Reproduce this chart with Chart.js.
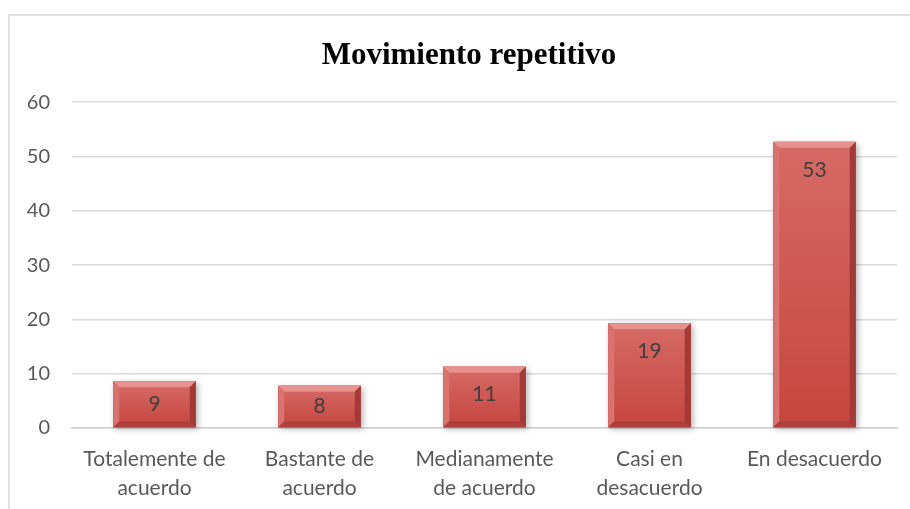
<!DOCTYPE html>
<html>
<head>
<meta charset="utf-8">
<script src="https://cdn.jsdelivr.net/npm/chart.js@4.4.0/dist/chart.umd.min.js"></script>
<style>
  html, body { margin: 0; background: #fff; }
  #wrap { width: 910px; height: 509px; position: relative; }
</style>
</head>
<body>
<div id="wrap"><canvas id="chart"></canvas></div>
<script>
// data
const categories = [
    ['Totalemente de', 'acuerdo'],
    ['Bastante de', 'acuerdo'],
    ['Medianamente', 'de acuerdo'],
    ['Casi en', 'desacuerdo'],
    'En desacuerdo'
];
const values = [8.6, 7.8, 11.3, 19.3, 52.7];
const yTicks = [0, 10, 20, 30, 40, 50, 60];
const chartTitle = 'Movimiento repetitivo';

const labelFont = 'Lato, "Open Sans", sans-serif';

// frame around the chart (top and left edges only visible)
const framePlugin = {
    id: 'frame',
    beforeDraw(chart) {
        const ctx = chart.ctx;
        ctx.save();
        ctx.strokeStyle = '#d9d9d9';
        ctx.lineWidth = 1.5;
        ctx.beginPath();
        ctx.moveTo(9, 520);
        ctx.lineTo(9, 15);
        ctx.lineTo(910, 15);
        ctx.stroke();
        ctx.restore();
    },
    // let the y tick labels overflow into the left padding
    afterLayout(chart) {
        chart.scales.y.left = 0;
    }
};

// bevelled red bars + value labels
const bevelPlugin = {
    id: 'bevel',
    beforeDatasetsDraw(chart) {
        const ctx = chart.ctx;
        const meta = chart.getDatasetMeta(0);
        ctx.save();
        meta.data.forEach(bar => {
            const l = bar.x - bar.width / 2, t = bar.y;
            ctx.shadowColor = 'rgba(0,0,0,0.3)';
            ctx.shadowBlur = 6;
            ctx.shadowOffsetX = 2;
            ctx.shadowOffsetY = 2;
            ctx.fillStyle = '#b8403d';
            ctx.fillRect(l, t, bar.width, bar.base - t);
        });
        ctx.restore();
    },
    afterDatasetsDraw(chart) {
        const ctx = chart.ctx;
        const meta = chart.getDatasetMeta(0);
        const b = 6;
        ctx.save();
        meta.data.forEach((bar, i) => {
            const l = bar.x - bar.width / 2, r = bar.x + bar.width / 2;
            const t = bar.y, bot = bar.base;

            const g = ctx.createLinearGradient(0, t, 0, bot);
            g.addColorStop(0, '#d66a66');
            g.addColorStop(1, '#c6463f');
            ctx.fillStyle = g;
            ctx.fillRect(l, t, r - l, bot - t);

            // top bevel
            ctx.fillStyle = '#e8928f';
            ctx.beginPath();
            ctx.moveTo(l, t); ctx.lineTo(r, t); ctx.lineTo(r - b, t + b); ctx.lineTo(l + b, t + b);
            ctx.closePath(); ctx.fill();
            // left bevel
            ctx.fillStyle = '#d9736f';
            ctx.beginPath();
            ctx.moveTo(l, t); ctx.lineTo(l + b, t + b); ctx.lineTo(l + b, bot - b); ctx.lineTo(l, bot);
            ctx.closePath(); ctx.fill();
            // right bevel
            ctx.fillStyle = '#a23a37';
            ctx.beginPath();
            ctx.moveTo(r, t); ctx.lineTo(r - b, t + b); ctx.lineTo(r - b, bot - b); ctx.lineTo(r, bot);
            ctx.closePath(); ctx.fill();
            // bottom bevel
            ctx.fillStyle = '#ae3f3c';
            ctx.beginPath();
            ctx.moveTo(l, bot); ctx.lineTo(l + b, bot - b); ctx.lineTo(r - b, bot - b); ctx.lineTo(r, bot);
            ctx.closePath(); ctx.fill();

            // value label, near top inside the bar
            const v = chart.data.datasets[0].data[i];
            const y = Math.min(t + 28, (t + bot) / 2);
            ctx.fillStyle = '#404040';
            ctx.font = '21px ' + labelFont;
            ctx.textAlign = 'center';
            ctx.textBaseline = 'middle';
            ctx.fillText(String(Math.round(v)), bar.x, y);
        });
        ctx.restore();
    }
};

new Chart(document.getElementById('chart'), {
    type: 'bar',
    data: {
        labels: categories,
        datasets: [{
            data: values,
            backgroundColor: 'rgba(0,0,0,0)',
            categoryPercentage: 1,
            barPercentage: 0.5
        }]
    },
    options: {
        responsive: true,
        maintainAspectRatio: false,
        animation: false,
        layout: { padding: { left: 41, right: 13, top: 15, bottom: 0 } },
        plugins: {
            legend: { display: false },
            tooltip: { enabled: false },
            title: {
                display: true,
                text: chartTitle,
                color: '#000',
                font: { family: '"Liberation Serif", "Times New Roman", serif', size: 31, weight: 'bold', lineHeight: 1.2 },
                padding: { top: 22, bottom: 28 }
            }
        },
        scales: {
            x: {
                afterFit(scale) { scale.height = 81; },
                grid: { display: false, drawTicks: false },
                border: { color: '#d0d0d0', width: 1.5 },
                ticks: {
                    color: '#595959',
                    padding: 17,
                    maxRotation: 0,
                    autoSkip: false,
                    font: { family: labelFont, size: 21, lineHeight: 1.38 }
                }
            },
            y: {
                min: yTicks[0],
                max: yTicks[yTicks.length - 1],
                afterFit(scale) { scale.width = 31; },
                afterBuildTicks(scale) { scale.ticks = yTicks.map(v => ({ value: v })); },
                grid: { color: '#d9d9d9', lineWidth: 1.5, drawTicks: false },
                border: { display: false },
                ticks: {
                    color: '#595959',
                    padding: 22,
                    font: { family: labelFont, size: 20 }
                }
            }
        }
    },
    plugins: [framePlugin, bevelPlugin]
});
</script>
</body>
</html>
